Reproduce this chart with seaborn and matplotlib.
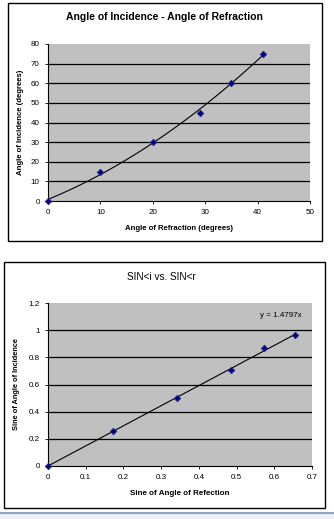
import matplotlib
matplotlib.use("Agg")
import matplotlib.pyplot as plt
from matplotlib.patches import Rectangle
from matplotlib.ticker import FuncFormatter
import numpy as np
import pandas as pd
import seaborn as sns

# Measured angles (degrees)
refraction_deg = [0, 10, 20, 29, 35, 41]
incidence_deg = [0, 15, 30, 45, 60, 75]

# Sines of the same angles
sin_refraction = [0, 0.1736, 0.3420, 0.4848, 0.5736, 0.6561]
sin_incidence = [0, 0.2588, 0.5000, 0.7071, 0.8660, 0.9659]

# Slope of the zero-intercept trendline
slope = 1.4797

top_ticks_x = [0, 10, 20, 30, 40, 50]
top_ticks_y = [0, 10, 20, 30, 40, 50, 60, 70, 80]
bot_ticks_x = [0, 0.1, 0.2, 0.3, 0.4, 0.5, 0.6, 0.7]
bot_ticks_y = [0, 0.2, 0.4, 0.6, 0.8, 1.0, 1.2]

sns.set_theme(style="white")
plt.rcParams["font.family"] = ["Liberation Sans", "DejaVu Sans"]
plt.rcParams.update({"text.color": "black", "axes.labelcolor": "black",
                     "xtick.color": "black", "ytick.color": "black"})

W, H = 334, 519
fig = plt.figure(figsize=(W / 100, H / 100), dpi=100)
fig.patch.set_facecolor("white")


def px_axes(left, top, right, bottom):
    return fig.add_axes([left / W, (H - bottom) / H, (right - left) / W, (bottom - top) / H])


def frame(left, top, right, bottom):
    fig.patches.append(Rectangle((left / W, (H - bottom) / H), (right - left) / W,
                                 (bottom - top) / H, transform=fig.transFigure,
                                 fill=False, edgecolor="black", linewidth=1.0))


def excel_num(v, _pos=None):
    return f"{v:.1f}".rstrip("0").rstrip(".")


def style(ax, xt, yt, xlim, ylim):
    ax.set_facecolor("#c0c0c0")
    ax.set_xlim(*xlim)
    ax.set_ylim(*ylim)
    ax.set_xticks(xt)
    ax.set_yticks(yt)
    ax.xaxis.set_major_formatter(FuncFormatter(excel_num))
    ax.yaxis.set_major_formatter(FuncFormatter(excel_num))
    for y in yt[1:-1]:
        ax.axhline(y, color="black", lw=0.9, zorder=1)
    for side in ["top", "right"]:
        ax.spines[side].set_visible(False)
    for side in ["left", "bottom"]:
        ax.spines[side].set_color("black")
        ax.spines[side].set_linewidth(0.8)
    ax.tick_params(axis="both", which="major", labelsize=5.8, length=2.5, width=0.6,
                   direction="out", color="black", labelcolor="black", pad=3.5,
                   bottom=True, left=True)
    ax.grid(False)


# ---- Angle of incidence vs angle of refraction ----
frame(7.5, 3.5, 322, 241)
ax1 = px_axes(48, 44, 310, 201)
df1 = pd.DataFrame({"refraction": refraction_deg, "incidence": incidence_deg})
style(ax1, top_ticks_x, top_ticks_y, (0, 50), (0, 80))
sns.regplot(data=df1, x="refraction", y="incidence", order=2, ci=None, scatter=False,
            truncate=True, color="black", line_kws={"lw": 0.8, "zorder": 3}, ax=ax1)
sns.scatterplot(data=df1, x="refraction", y="incidence", marker="D", s=11, color="#000080",
                edgecolor="#2a2a90", linewidth=0.6, zorder=4, ax=ax1, clip_on=False)
ax1.set_xlabel("Angle of Refraction (degrees)", fontsize=5.6, fontweight="bold", labelpad=6)
ax1.set_ylabel("Angle of Incidence (degrees)", fontsize=5.6, fontweight="bold", labelpad=5)
fig.text(164 / W, 1 - 17 / H, "Angle of Incidence - Angle of Refraction",
         ha="center", va="center", fontsize=7.5, fontweight="bold", color="black")

# ---- sin i vs sin r ----
frame(3.5, 262, 325, 508)
ax2 = px_axes(48, 303, 312, 466)
df2 = pd.DataFrame({"sin_r": sin_refraction, "sin_i": sin_incidence})
style(ax2, bot_ticks_x, bot_ticks_y, (0, 0.7), (0, 1.2))
xfit = np.array([0, max(sin_refraction)])
sns.lineplot(x=xfit, y=slope * xfit, color="black", lw=0.8, zorder=3, ax=ax2)
sns.scatterplot(data=df2, x="sin_r", y="sin_i", marker="D", s=11, color="#000080",
                edgecolor="#2a2a90", linewidth=0.6, zorder=4, ax=ax2, clip_on=False)
ax2.text(0.616, 1.11, f"y = {slope}x", fontsize=5.8, ha="center", va="center", color="black")
ax2.set_xlabel("Sine of Angle of Refection", fontsize=5.8, fontweight="bold", labelpad=6)
ax2.set_ylabel("Sine of Angle of Incidence", fontsize=5.3, fontweight="bold", labelpad=6)
fig.text(161 / W, 1 - 277 / H, "SIN<i vs. SIN<r",
         ha="center", va="center", fontsize=7.2, color="black")

# Bottom rule
fig.add_artist(plt.Line2D([0, 1], [1 - 513 / H, 1 - 513 / H], transform=fig.transFigure,
                          color="#8fa6c4", lw=1.5))
fig.patches.append(Rectangle((0, 0), 1, 1 - 514 / H, transform=fig.transFigure,
                             facecolor="#eef2f8", edgecolor="none"))

fig.savefig("out.png", dpi=100, facecolor="white")
